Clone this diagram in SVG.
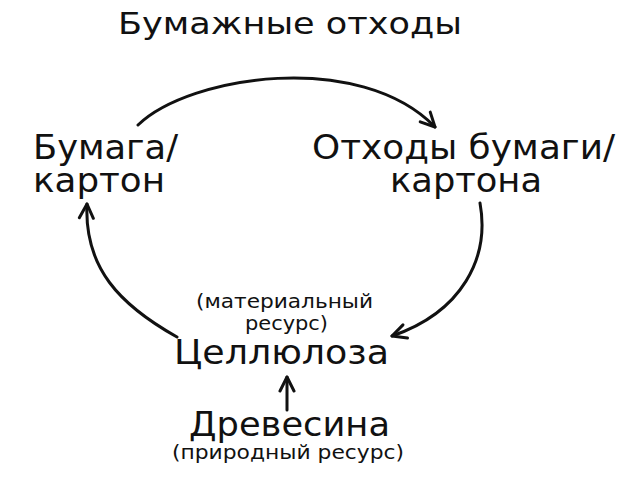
<svg xmlns="http://www.w3.org/2000/svg" width="640" height="480" viewBox="0 0 640 480">
<style>
text{font-family:"DejaVu Sans","Verdana",sans-serif;fill:#111}
.t{font-size:31px}
.n{font-size:33px}
.s{font-size:20px}
.c{fill:none;stroke:#111;stroke-width:3;stroke-linecap:round}
</style>
<defs>
<marker id="ah" viewBox="0 0 20 20" refX="18" refY="10" markerWidth="20" markerHeight="20" markerUnits="userSpaceOnUse" orient="auto">
<polyline points="4,3 18,10 4,17" fill="none" stroke="#111" stroke-width="3" stroke-linecap="round" stroke-linejoin="round"/>
</marker>
</defs>
<rect width="640" height="480" fill="#fff"/>
<g id="title"><text class="t" x="118" y="34" textLength="344" lengthAdjust="spacingAndGlyphs">Бумажные отходы</text></g>
<g id="paper"><text class="n" x="33" y="159" textLength="145" lengthAdjust="spacingAndGlyphs">Бумага/</text><text class="n" x="33" y="192" textLength="132" lengthAdjust="spacingAndGlyphs">картон</text></g>
<g id="waste"><text class="n" x="312" y="159" textLength="303" lengthAdjust="spacingAndGlyphs">Отходы бумаги/</text><text class="n" x="390" y="192" textLength="152" lengthAdjust="spacingAndGlyphs">картона</text></g>
<g id="cellulose"><text class="s" x="196" y="308" textLength="177" lengthAdjust="spacingAndGlyphs">(материальный</text><text class="s" x="245" y="330" textLength="83" lengthAdjust="spacingAndGlyphs">ресурс)</text><text class="n" x="174" y="364" textLength="215" lengthAdjust="spacingAndGlyphs">Целлюлоза</text></g>
<g id="wood"><text class="n" x="189" y="436" textLength="201" lengthAdjust="spacingAndGlyphs">Древесина</text><text class="s" x="172" y="459" textLength="232" lengthAdjust="spacingAndGlyphs">(природный ресурс)</text></g>
<g id="connectors">
<path class="c" d="M138,125 C190,75 360,50 435,127" marker-end="url(#ah)"/>
<path class="c" d="M480,203 C490,258 462,312 392,336" marker-end="url(#ah)"/>
<path class="c" d="M177,337 C120,305 84,268 87,204" marker-end="url(#ah)"/>
<path class="c" d="M287,410 L287,377" marker-end="url(#ah)"/>
</g>
</svg>
